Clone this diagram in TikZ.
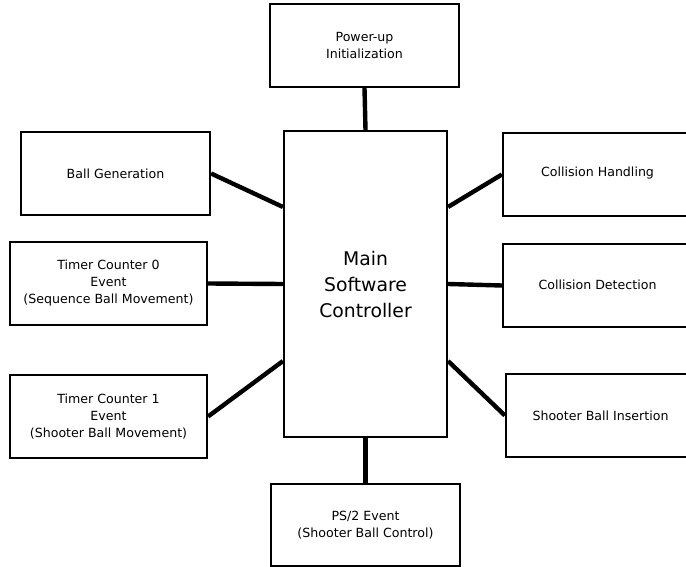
\documentclass[tikz,border=0pt]{standalone}
\usepackage{fontspec}
\setmainfont{DejaVu Sans}
\usetikzlibrary{calc}
\begin{document}
\begin{tikzpicture}[x=1pt,y=-1pt,
  block/.style={draw=black, line width=2.2pt, align=center, inner sep=0pt,
    font=\fontsize{12.6}{17}\selectfont},
  link/.style={line width=4.4pt}]
\useasboundingbox (0,0) rectangle (686,567);

% main controller
\node[block, minimum width=163pt, minimum height=306pt,
  font=\fontsize{18.8}{26}\selectfont] (main) at (365.5,284)
  {Main\\Software\\Controller};

% surrounding handlers
\node[block, minimum width=189pt, minimum height=83pt] (pwr) at (364.5,45.5) {Power-up\\Initialization};
\node[block, minimum width=189pt, minimum height=83pt] (ballgen) at (115.5,173.5) {Ball Generation};
\node[block, minimum width=197pt, minimum height=83pt] (tc0) at (108.5,283.5) {Timer Counter 0\\Event\\(Sequence Ball Movement)};
\node[block, minimum width=197pt, minimum height=83pt] (tc1) at (108.5,416.5) {Timer Counter 1\\Event\\(Shooter Ball Movement)};
\node[block, minimum width=189pt, minimum height=82pt] (ps2) at (365.5,525) {PS/2 Event\\(Shooter Ball Control)};
\node[block, minimum width=185pt, minimum height=83pt] (colh) at (595.5,174.5) {};
\node[block, minimum width=185pt, minimum height=83pt] (cold) at (595.5,285.5) {};
\node[block, minimum width=182pt, minimum height=83pt] (shoot) at (597,415.5) {};
\node[font=\fontsize{12.6}{17}\selectfont] (colhtxt) at (597.5,173.5) {Collision Handling};
\node[font=\fontsize{12.6}{17}\selectfont] (coldtxt) at (597.5,284.5) {Collision Detection};
\node[font=\fontsize{12.6}{17}\selectfont] (shoottxt) at (600.5,415.5) {Shooter Ball Insertion};

% attachment points on the controller
\coordinate (mwA) at ($(main.north west)!0.25!(main.south west)$);
\coordinate (mwB) at ($(main.north west)!0.5!(main.south west)$);
\coordinate (mwC) at ($(main.north west)!0.75!(main.south west)$);
\coordinate (meA) at ($(main.north east)!0.25!(main.south east)$);
\coordinate (meB) at ($(main.north east)!0.5!(main.south east)$);
\coordinate (meC) at ($(main.north east)!0.75!(main.south east)$);

% connectors
\draw[link] (pwr.south) -- (main.north);
\draw[link] (ps2.north) -- (main.south);
\draw[link] (ballgen.east) -- (mwA);
\draw[link] (tc0.east) -- (mwB);
\draw[link] (tc1.east) -- (mwC);
\draw[link] (colh.west) -- (meA);
\draw[link] (cold.west) -- (meB);
\draw[link] (shoot.west) -- (meC);
\end{tikzpicture}
\end{document}
